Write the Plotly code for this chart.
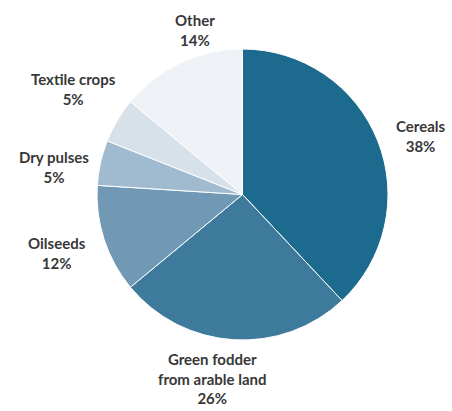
import math
import plotly.graph_objects as go

labels = ["Cereals", "Green fodder<br>from arable land", "Oilseeds", "Dry pulses", "Textile crops", "Other"]
values = [38, 26, 12, 5, 5, 14]
colors = ["#1c6b8f", "#3e7a9c", "#7199b5", "#a0bbd0", "#d6e1ea", "#eef2f7"]

# label placement style: radial distance (px) and angle nudge (deg)
label_dist = [188, 186, 194, 191, 199, 171]
label_nudge = [3.4, 5.7, 0.6, -4.2, 1.3, 9.2]

W, H = 452, 411
L, R, T, B = 97, 64, 49, 71
pw, ph = W - L - R, H - T - B
cx, cy = L + pw / 2, T + ph / 2

fig = go.Figure(go.Pie(
    labels=labels, values=values, sort=False, direction="clockwise", rotation=0,
    marker=dict(colors=colors, line=dict(color="white", width=1)),
    textinfo="none", hoverinfo="label+percent", showlegend=False,
))

total = sum(values)
cum = 0
for lab, v, d, n in zip(labels, values, label_dist, label_nudge):
    mid = (cum + v / 2) / total * 360 + n
    cum += v
    xp = cx + d * math.sin(math.radians(mid))
    yp = cy - d * math.cos(math.radians(mid))
    fig.add_annotation(
        x=(xp - L) / pw, y=1 - (yp - T) / ph, xref="paper", yref="paper",
        text=f"{lab}<br>{round(v / total * 100)}%", showarrow=False,
        xanchor="center", yanchor="middle", align="center",
        font=dict(family="Lato", size=15, color="#383838", weight="bold"),
    )

fig.update_layout(
    width=W, height=H, margin=dict(l=L, r=R, t=T, b=B),
    paper_bgcolor="white", plot_bgcolor="white",
)
fig.write_html("out.html")
